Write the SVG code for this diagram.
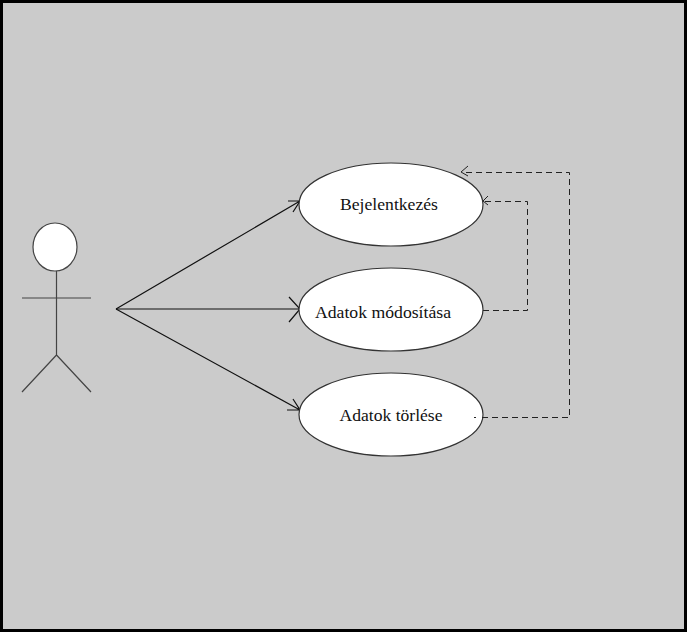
<svg xmlns="http://www.w3.org/2000/svg" width="687" height="632" viewBox="0 0 687 632">
<style>
.case{fill:#fff;stroke:#333;stroke-width:1.2}
.fig{fill:none;stroke:#444;stroke-width:1.2}
.solid{fill:none;stroke:#111;stroke-width:1.2}
.dash{fill:none;stroke:#222;stroke-width:1;stroke-dasharray:6 4}
.head{fill:none;stroke:#222;stroke-width:1}
text{font-family:"Liberation Serif","Times New Roman",serif;font-size:17px;fill:#111}
</style>
<rect x="1.500" y="1.500" width="684" height="629" fill="#cbcbcb" stroke="#000" stroke-width="3"/>
<g id="actor">
<ellipse cx="55" cy="247" rx="22" ry="24" fill="#fff" stroke="#444" stroke-width="1.2"/>
<path class="fig" d="M56.500 271V355M22 298H91M56.500 355L22 392M56.500 355L91 392"/>
</g>
<g id="connectors">
<path class="solid" d="M116 309L300 201M288 201H300L293 212"/>
<path class="solid" d="M116 309H299M289 297L300 309L289 322"/>
<path class="solid" d="M116 309L300 410M293 399L300 410H287"/>
<path class="dash" d="M483 310.500H527.500V201.500H485"/>
<path class="head" d="M488 196L483 201L488 205"/>
<path class="head" d="M468 166L461 172L468 176"/>
</g>
<g id="case1">
<ellipse class="case" cx="391" cy="204.500" rx="92" ry="41.500"/>
<text x="340" y="210" textLength="98" lengthAdjust="spacingAndGlyphs">Bejelentkezés</text>
</g>
<g id="case2">
<ellipse class="case" cx="391" cy="309.500" rx="92" ry="41.500"/>
<text x="315" y="318" textLength="136" lengthAdjust="spacingAndGlyphs">Adatok módosítása</text>
</g>
<g id="case3">
<ellipse class="case" cx="391" cy="414.500" rx="92" ry="41.500"/>
<text x="339.500" y="421" textLength="103" lengthAdjust="spacingAndGlyphs">Adatok törlése</text>
</g>
<g id="connector-overlay">
<path class="dash" d="M474 417.500H476M482 417.500H569.500V172.500H463"/>
</g>
</svg>
